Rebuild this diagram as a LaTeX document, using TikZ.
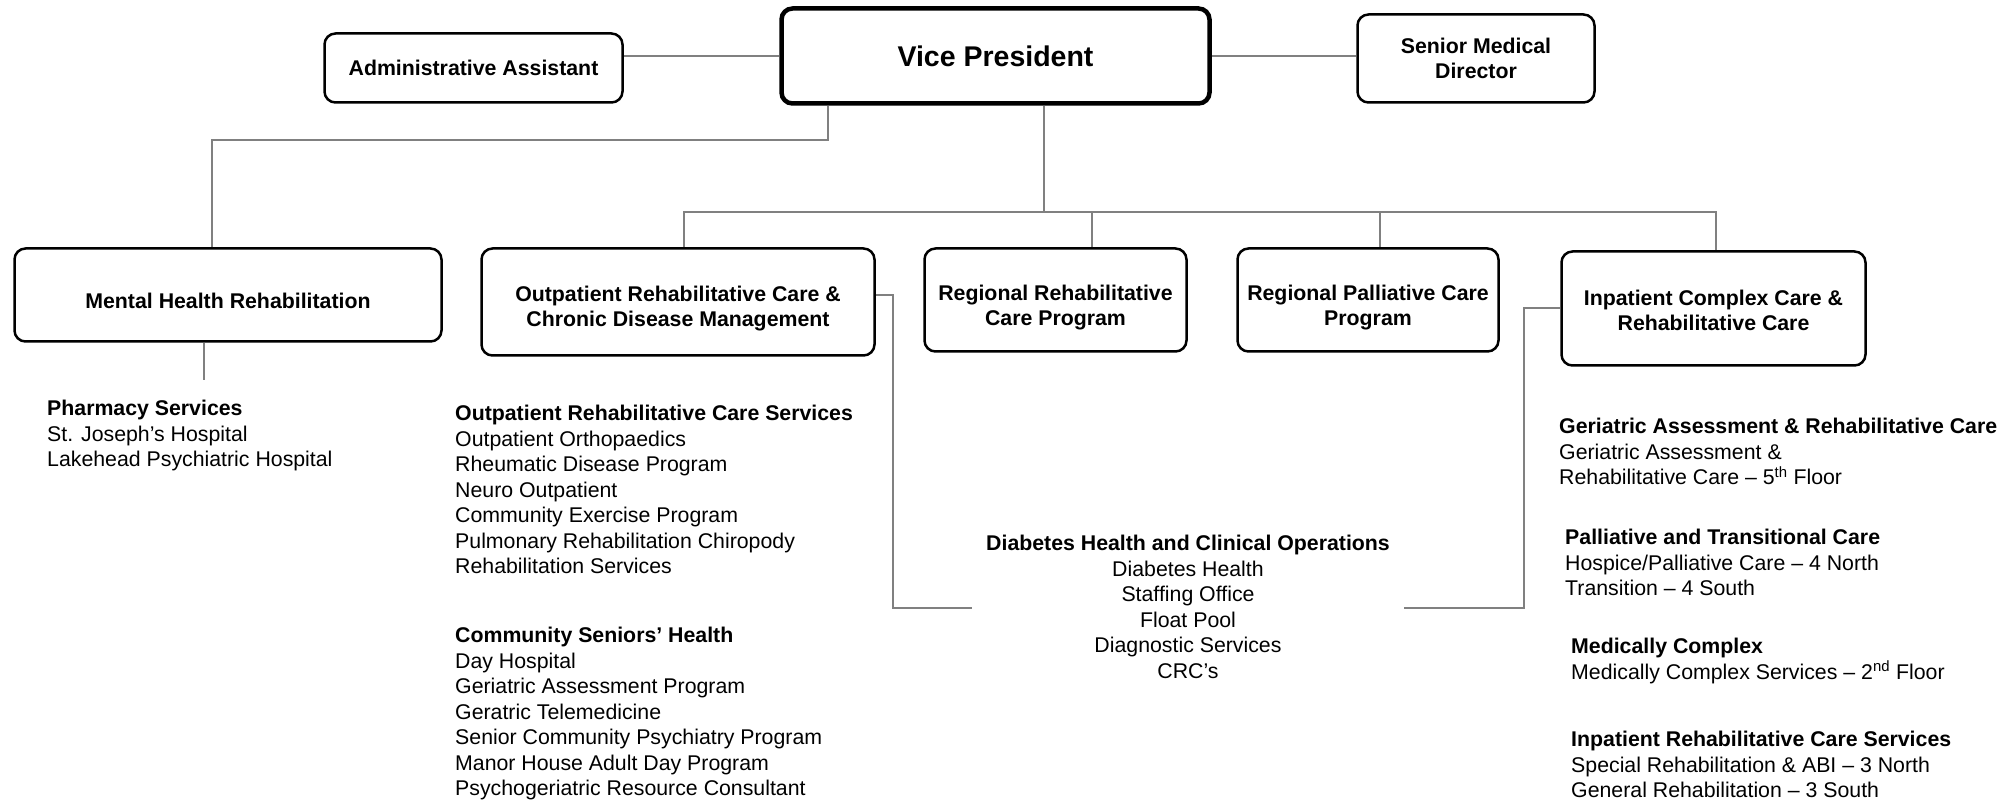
\documentclass[tikz,border=0pt]{standalone}
\usepackage{fontspec}
\setmainfont{Liberation Sans}
\newcommand{\padtop}[1]{\rule{0pt}{#1pt}}
\tikzset{
  unit/.style={draw, line width=2.5pt, rounded corners=11pt, align=center,
    inner sep=2pt, font=\bfseries\fontsize{21.3}{25}\selectfont},
  chief/.style={unit, line width=4.5pt, font=\bfseries\fontsize{28.5}{32}\selectfont},
  link/.style={draw=gray, line width=1.5pt},
  svc/.style={align=left, anchor=north west, inner sep=0pt, font=\fontsize{21.3}{25.5}\selectfont},
}
\begin{document}
\begin{tikzpicture}[x=1pt,y=-1pt]
  \useasboundingbox (0,0) rectangle (2014,802);
  % top row
  \node[chief, minimum width=428, minimum height=95] (vp) at (995.5,56) {Vice President};
  \node[unit, minimum width=298, minimum height=69] (admin) at (473.5,68) {Administrative Assistant};
  \node[unit, minimum width=237, minimum height=88] (smd) at (1476,58.5) {Senior Medical\\Director};
  % programs
  \node[unit, minimum width=427, minimum height=93] (mh) at (228,295) {\padtop{28}Mental Health Rehabilitation};
  \node[unit, minimum width=393, minimum height=107] (opr) at (678,302) {\padtop{28}Outpatient Rehabilitative Care \&\\Chronic Disease Management};
  \node[unit, minimum width=262, minimum height=103] (rrc) at (1055.5,300) {\padtop{31}Regional Rehabilitative\\Care Program};
  \node[unit, minimum width=261, minimum height=103] (rpc) at (1368,300) {\padtop{31}Regional Palliative Care\\Program};
  \node[unit, minimum width=304, minimum height=114] (icc) at (1713.5,308.5) {\padtop{19}Inpatient Complex Care \&\\Rehabilitative Care};
  % connectors
  \draw[link] (vp.west) -- (vp.west -| admin.east);
  \draw[link] (vp.east) -- (vp.east -| smd.west);
  \draw[link] (vp.south -| 828,0) |- (212,140) -- (mh.north -| 212,0);
  \draw[link] (vp.south -| 1044,0) -- (1044,212);
  \draw[link] (opr.north -| 684,0) -- (684,212) -- (1716,212) -- (icc.north -| 1716,0);
  \draw[link] (1092,212) -- (rrc.north -| 1092,0);
  \draw[link] (1380,212) -- (rpc.north -| 1380,0);
  \draw[link] (mh.south -| 204,0) -- (204,380);
  \draw[link] (opr.east |- 0,295) -| (893,608) -- (972,608);
  \draw[link] (icc.west |- 0,308) -| (1524,608) -- (1404,608);
  % services
  \node[svc] (pharm) at (47,400) {\textbf{Pharmacy Services}\\St. Joseph’s Hospital\\Lakehead Psychiatric Hospital};
  \node[svc] (orcs) at (455,405) {\textbf{Outpatient Rehabilitative Care Services}\\Outpatient Orthopaedics\\Rheumatic Disease Program\\Neuro Outpatient\\Community Exercise Program\\Pulmonary Rehabilitation Chiropody\\Rehabilitation Services};
  \node[svc] (csh) at (455,627) {\textbf{Community Seniors’ Health}\\Day Hospital\\Geriatric Assessment Program\\Geratric Telemedicine\\Senior Community Psychiatry Program\\Manor House Adult Day Program\\Psychogeriatric Resource Consultant};
  \node[svc, align=center, anchor=north] (dhco) at (1188,535) {\textbf{Diabetes Health and Clinical Operations}\\Diabetes Health\\Staffing Office\\Float Pool\\Diagnostic Services\\CRC’s};
  \node[svc] (garc) at (1559,418) {\textbf{Geriatric Assessment \& Rehabilitative Care}\\Geriatric Assessment \&\\Rehabilitative Care – 5\textsuperscript{th} Floor};
  \node[svc] (ptc) at (1565,529) {\textbf{Palliative and Transitional Care}\\Hospice/Palliative Care – 4 North\\Transition – 4 South};
  \node[svc] (mcx) at (1571,638) {\textbf{Medically Complex}\\Medically Complex Services – 2\textsuperscript{nd} Floor};
  \node[svc] (ircs) at (1571,731) {\textbf{Inpatient Rehabilitative Care Services}\\Special Rehabilitation \& ABI – 3 North\\General Rehabilitation – 3 South};
\end{tikzpicture}
\end{document}
